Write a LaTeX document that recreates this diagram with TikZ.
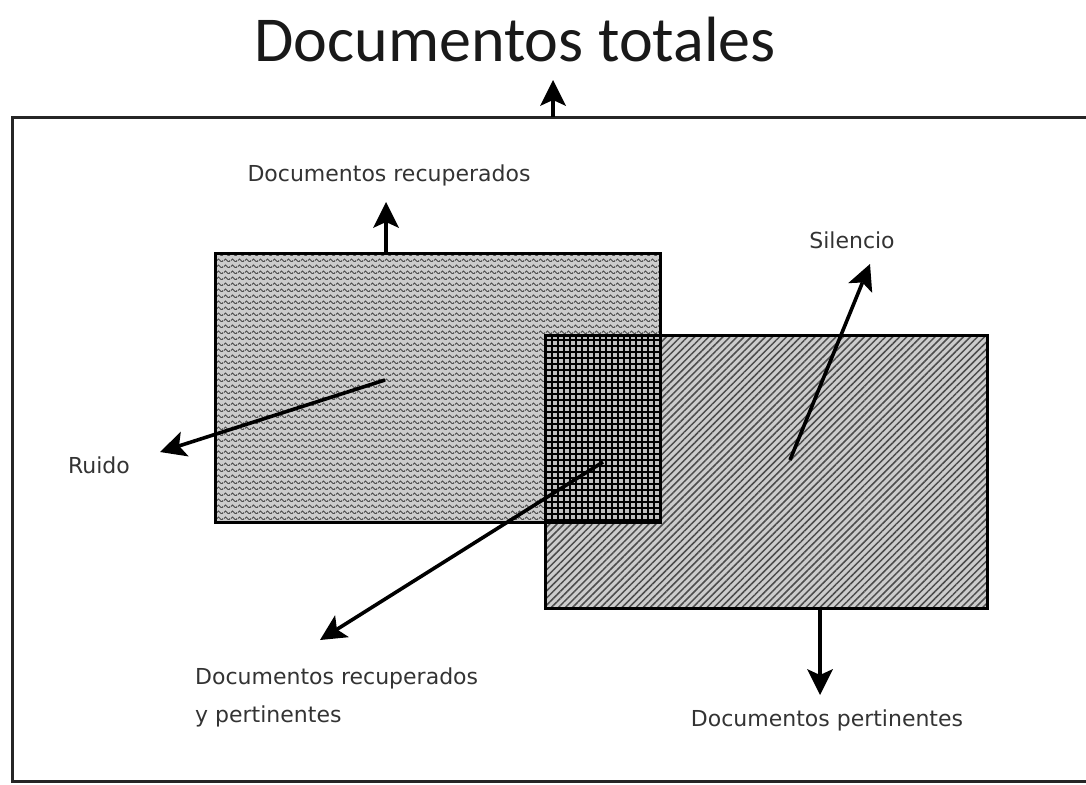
\documentclass[tikz,border=0pt]{standalone}
\usepackage{fontspec}
\setmainfont{DejaVu Sans}
\newfontfamily\titlefont{Carlito}
\usetikzlibrary{patterns.meta,arrows.meta}

\tikzdeclarepattern{
  name=wavy, type=uncolored,
  bottom left={(0pt,0pt)}, top right={(7pt,5.5pt)},
  tile size={(7pt,5.5pt)},
  code={
    \tikzset{x=1pt,y=1pt}
    \draw[line width=1.1pt] (0,1.6) .. controls (1.2,3.8) and (2.3,3.8) .. (3.5,1.6)
      .. controls (4.7,-0.6) and (5.8,-0.6) .. (7,1.6);
  }
}

\begin{document}
\begin{tikzpicture}[x=1pt,y=-1pt,
    lbl/.style={font=\fontsize{22}{38}\selectfont, text=black!80, inner sep=0pt},
    arr/.style={line width=3.6pt, -{Stealth[length=26pt,width=26pt,inset=6pt,line width=0pt]}},
    box/.style={line width=3pt, draw=black}]
    \useasboundingbox (0,0) rectangle (1086,784);

    % outer frame
    \draw[line width=3pt, draw=black!85] (12,117) rectangle (1095,781);

    % retrieved and relevant sets
    \path[preaction={fill=gray!40}, pattern={wavy}, pattern color=black!70]
        (215,253) rectangle (660,522);
    \path[preaction={fill=gray!40}, pattern={Lines[angle=45,distance=5pt,line width=1.5pt]}, pattern color=black!70]
        (545,335) rectangle (987,608);
    \begin{scope}
        \clip (215,253) rectangle (660,522);
        \path[preaction={fill=gray!50}, pattern={Hatch[angle=0,distance=6pt,line width=1.5pt]}, pattern color=black]
            (545,335) rectangle (987,608);
    \end{scope}
    \draw[box] (215,253) rectangle (660,522);
    \draw[box] (545,335) rectangle (987,608);

    \node[font=\titlefont\fontsize{64}{70}\selectfont, text=black!90, inner sep=0pt] (tot) at (515,40) {Documentos totales};
    \node[lbl] (rec) at (389,175) {Documentos recuperados};
    \node[lbl] (ruido) at (99,465) {Ruido};
    \node[lbl] (sil) at (852,240) {Silencio};
    \node[lbl, align=left, anchor=west] (rp) at (195,697) {Documentos recuperados\\y pertinentes};
    \node[lbl] (per) at (827,720) {Documentos pertinentes};

    \coordinate (a0) at (553,117);  \coordinate (a1) at (553,80);
    \coordinate (b0) at (386,253);  \coordinate (b1) at (386,202);
    \coordinate (c0) at (385,380);  \coordinate (c1) at (160,452);
    \coordinate (d0) at (790,460);  \coordinate (d1) at (870,264);
    \coordinate (e0) at (603,462);  \coordinate (e1) at (320,640);
    \coordinate (f0) at (820,608);  \coordinate (f1) at (820,695);

    \draw[arr] (a0) -- (a1);
    \draw[arr] (b0) -- (b1);
    \draw[arr] (c0) -- (c1);
    \draw[arr] (d0) -- (d1);
    \draw[arr] (e0) -- (e1);
    \draw[arr] (f0) -- (f1);
\end{tikzpicture}
\end{document}
